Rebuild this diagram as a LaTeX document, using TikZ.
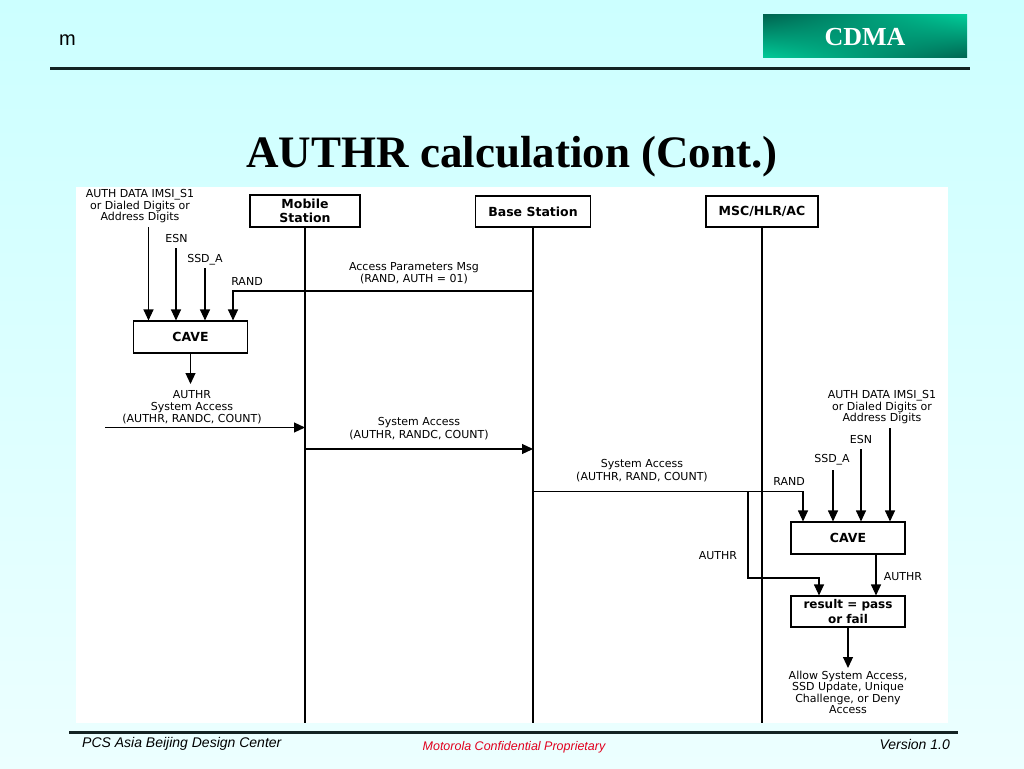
\documentclass[tikz,border=0pt]{standalone}
\usepackage{fontspec}
\setmainfont{Liberation Serif}
\newfontfamily\dvs{DejaVu Sans}
\newfontfamily\lsans{Liberation Sans}
\usetikzlibrary{arrows.meta,calc,shadings}
\definecolor{bgtop}{RGB}{204,255,255}
\definecolor{bgbot}{RGB}{236,255,255}
\definecolor{cdmalight}{RGB}{0,204,153}
\definecolor{cdmadark}{RGB}{0,100,80}
\definecolor{rulecol}{RGB}{20,35,35}
\definecolor{confred}{RGB}{225,0,30}
\begin{document}
\begin{tikzpicture}[x=1pt,y=-1pt,
  lbl/.style={font=\dvs\fontsize{11}{11.5}\selectfont, align=center, inner sep=0pt},
  ent/.style={draw, fill=white, line width=1.1pt, font=\dvs\bfseries\fontsize{12.5}{14.5}\selectfont, align=center, inner sep=0pt, minimum height=32pt},
  proc/.style={draw, fill=white, line width=1.1pt, font=\dvs\bfseries\fontsize{12.5}{15}\selectfont, align=center, inner sep=0pt, minimum width=114pt, minimum height=32pt},
  ln/.style={line width=1.1pt},
  arr/.style={line width=1.1pt, -{Triangle[length=11pt,width=10pt]}},
  rulestyle/.style={rulecol, line width=3pt},
  ]
\useasboundingbox (0,0) rectangle (1024,768);
\shade[top color=bgtop, bottom color=bgbot] (0,0) rectangle (1024,768);
\fill[white] (76,187) rectangle (948,723);

% header
\node[font=\lsans\fontsize{20}{20}\selectfont, anchor=west, inner sep=0pt] (mlabel) at (59,40) {m};
\shade[upper left=cdmadark, upper right=cdmalight, lower left=cdmalight, lower right=cdmadark] (763,15) rectangle (967,58);
\node[font=\bfseries\fontsize{26}{26}\selectfont, text=white, inner sep=0pt] (cdma) at (865,37) {CDMA};
\draw[rulestyle] (50,68) -- (970,68);
\node[font=\bfseries\fontsize{45}{45}\selectfont, anchor=base, inner sep=0pt] (title) at (512,167) {AUTHR calculation (Cont.)};

% entities and lifelines
\node[ent, minimum width=110pt] (ms) at (305,211) {Mobile\\Station};
\node[ent, minimum width=115pt, minimum height=31pt] (bs) at (533,211.5) {Base Station};
\node[ent, minimum width=112pt, minimum height=31pt] (msc) at (762,211.5) {MSC/HLR/AC};
\coordinate (msEnd) at (305,723);
\coordinate (bsEnd) at (533,723);
\coordinate (mscEnd) at (762,723);
\draw[ln] (ms.south) -- (msEnd);
\draw[ln] (bs.south) -- (bsEnd);
\draw[ln] (msc.south) -- (mscEnd);

% left CAVE
\node[lbl] (authL) at (140,206.5) {AUTH DATA IMSI\_S1\\or Dialed Digits or\\Address Digits};
\node[lbl] (esnL) at (176.5,238) {ESN};
\node[lbl] (ssdL) at (205,260) {SSD\_A};
\node[lbl] (randL) at (247,281.5) {RAND};
\node[proc] (cave1) at (190.5,337) {CAVE};
\coordinate (aL) at (148.5,227);
\coordinate (eL) at (176,248);
\coordinate (sL) at (205,268);
\draw[arr] (aL) -- (aL |- cave1.north);
\draw[arr] (eL) -- (eL |- cave1.north);
\draw[arr] (sL) -- (sL |- cave1.north);
\coordinate (bsRand) at (533,291);
\coordinate (rL) at (233,291);
\draw[arr] (bsRand) -- (rL) -- (rL |- cave1.north);
\node[lbl] (apm) at (414,273) {Access Parameters Msg\\(RAND, AUTH = 01)};

\coordinate (c1out) at (190.5,384);
\draw[arr] (cave1.south) -- (c1out);
\node[lbl, font=\dvs\fontsize{11}{12}\selectfont] (sa1) at (192,407) {AUTHR\\System Access\\(AUTHR, RANDC, COUNT)};
\coordinate (sa1start) at (105,427.5);
\coordinate (msA) at (305,427.5);
\draw[arr] (sa1start) -- (msA);

\node[lbl, font=\dvs\fontsize{11}{12.5}\selectfont] (sa2) at (419,428.5) {System Access\\(AUTHR, RANDC, COUNT)};
\coordinate (msB) at (305,449);
\coordinate (bsB) at (533,449);
\draw[arr] (msB) -- (bsB);

% right CAVE
\node[lbl, font=\dvs\fontsize{11}{12.5}\selectfont] (sa3) at (642,470.5) {System Access\\(AUTHR, RAND, COUNT)};
\node[lbl] (authR) at (882,407.5) {AUTH DATA IMSI\_S1\\or Dialed Digits or\\Address Digits};
\node[lbl] (esnR) at (861,439.5) {ESN};
\node[lbl] (ssdR) at (832,460) {SSD\_A};
\node[lbl] (randR) at (789,481) {RAND};
\node[proc] (cave2) at (848,538) {CAVE};
\node[proc, minimum height=31pt, font=\dvs\bfseries\fontsize{12}{15}\selectfont] (res) at (848,611.5) {result = pass\\or fail};

\coordinate (aR) at (890,428);
\coordinate (eR) at (861,449);
\coordinate (sR) at (833,470);
\draw[arr] (aR) -- (aR |- cave2.north);
\draw[arr] (eR) -- (eR |- cave2.north);
\draw[arr] (sR) -- (sR |- cave2.north);

\coordinate (bsC) at (533,491.5);
\coordinate (rR) at (803,491.5);
\draw[arr] (bsC) -- (rR) -- (rR |- cave2.north);
\coordinate (br) at (748,491.5);
\coordinate (brLow) at (748,578);
\coordinate (brR) at (819,578);
\draw[arr] (br) -- (brLow) -- (brR) -- (brR |- res.north);

\coordinate (c2x) at (876,554);
\draw[arr] (c2x) -- (c2x |- res.north);
\node[lbl] (authrL) at (718,555.5) {AUTHR};
\node[lbl] (authrR) at (903,577) {AUTHR};

\coordinate (resOut) at (848,668);
\draw[arr] (res.south) -- (resOut);
\node[lbl, font=\dvs\fontsize{11}{11.3}\selectfont] (allow) at (848,692.5) {Allow System Access,\\SSD Update, Unique\\Challenge, or Deny\\Access};

% footer
\draw[rulestyle] (69,732) -- (958,732);
\node[font=\lsans\itshape\fontsize{14}{14}\selectfont, anchor=west, inner sep=0pt] (pcs) at (82,744) {PCS Asia Beijing Design Center};
\node[font=\lsans\itshape\fontsize{12.5}{12.5}\selectfont, text=confred, inner sep=0pt] (moto) at (514,747) {Motorola Confidential Proprietary};
\node[font=\lsans\itshape\fontsize{14}{14}\selectfont, anchor=east, inner sep=0pt] (ver) at (950,744) {Version 1.0};
\end{tikzpicture}
\end{document}
